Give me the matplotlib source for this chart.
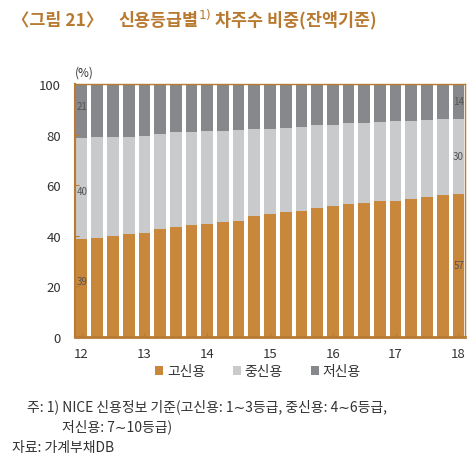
import matplotlib
matplotlib.use("Agg")
import matplotlib.pyplot as plt
import numpy as np

plt.rcParams['font.family'] = ['Noto Sans CJK KR', 'DejaVu Sans']

quarters = ["12.1Q","12.2Q","12.3Q","12.4Q","13.1Q","13.2Q","13.3Q","13.4Q",
            "14.1Q","14.2Q","14.3Q","14.4Q","15.1Q","15.2Q","15.3Q","15.4Q",
            "16.1Q","16.2Q","16.3Q","16.4Q","17.1Q","17.2Q","17.3Q","17.4Q","18.1Q"]
high = [38.6, 39.3, 40.1, 40.9, 41.3, 42.5, 43.3, 44.1, 44.6, 45.3, 45.8, 48.0,
        48.7, 49.3, 50.0, 50.8, 51.6, 52.4, 52.9, 53.6, 53.9, 54.7, 55.5, 56.2, 56.6]
high_mid = [78.8, 79.1, 79.1, 79.1, 79.6, 80.3, 81.1, 81.2, 81.3, 81.6, 81.8, 82.2,
            82.4, 82.8, 83.0, 83.6, 83.9, 84.6, 84.7, 85.0, 85.3, 85.4, 85.7, 86.1, 86.2]
mid = [hm - h for hm, h in zip(high_mid, high)]
low = [100 - hm for hm in high_mid]
year_labels = ["12", "13", "14", "15", "16", "17", "18"]
series_names = ["고신용", "중신용", "저신용"]
first_labels = ["39", "40", "21"]
last_labels = ["57", "30", "14"]

c_high = "#C8873A"
c_mid = "#C9CACC"
c_low = "#87888C"
c_frame = "#B87A30"
c_title = "#B87A30"
c_text = "#333333"

fig = plt.figure(figsize=(4.77, 4.60), dpi=100)
ax = fig.add_axes([75/477, 1-338/460, 390/477, 253/460])

x = np.arange(len(quarters))
w = 0.75
ax.bar(x, high, width=w, color=c_high, label=series_names[0])
ax.bar(x, mid, width=w, bottom=high, color=c_mid, label=series_names[1])
ax.bar(x, low, width=w, bottom=high_mid, color=c_low, label=series_names[2])

ax.set_xlim(-0.42, len(quarters) - 1 + 0.42)
ax.set_ylim(0, 100)
ax.set_yticks(range(0, 101, 20))
ax.set_xticks(x[::4])
ax.set_xticklabels(year_labels)
ax.tick_params(axis='both', direction='in', length=3, color=c_frame, labelsize=9.5,
               labelcolor=c_text)
ax.tick_params(axis='y', pad=10)
ax.tick_params(axis='x', pad=7)
for s in ax.spines.values():
    s.set_color(c_frame)
    s.set_linewidth(1.0)
ax.spines['bottom'].set_linewidth(2.0)
ax.spines['left'].set_linewidth(1.5)

# value labels on first and last bars
first_mid_y = [high[0] / 2 + 3, high[0] + mid[0] / 2 - 1, high_mid[0] + low[0] / 2 + 2]
last_mid_y = [high[-1] / 2, high[-1] + mid[-1] / 2, high_mid[-1] + low[-1] / 2]
for lab, yy in zip(first_labels, first_mid_y):
    ax.text(x[0] - w / 2 + 0.05, yy, lab, fontsize=7, color="#555555",
            ha='left', va='center')
for lab, yy in zip(last_labels, last_mid_y):
    ax.text(x[-1] + w / 2 - 0.02, yy, lab, fontsize=7, color="#555555",
            ha='right', va='center')

ax.text(0.0, 1.02, "(%)", transform=ax.transAxes, fontsize=8.5, color=c_text,
        ha='left', va='bottom')

# legend
handles, labels = ax.get_legend_handles_labels()
fig.legend(handles, labels, loc='center', bbox_to_anchor=(258/477, 1-372/460), ncol=3,
           frameon=False, fontsize=10, handlelength=0.6, handleheight=0.6,
           handletextpad=0.25, columnspacing=2.0, labelcolor=c_text)

# title
fig.text(12/477, 1-20/460, "〈그림 21〉", fontsize=12.5, color=c_title, ha='left',
         va='center', fontweight='bold')
fig.text(118/477, 1-20/460, "신용등급별$^{1)}$ 차주수 비중(잔액기준)", fontsize=12.5,
         color=c_title, ha='left', va='center', fontweight='bold')

# notes
fig.text(27/477, 1-407/460, "주: 1) NICE 신용정보 기준(고신용: 1∼3등급, 중신용: 4∼6등급,",
         fontsize=10, color=c_text, ha='left', va='center')
fig.text(62/477, 1-427/460, "저신용: 7∼10등급)", fontsize=10, color=c_text,
         ha='left', va='center')
fig.text(12/477, 1-448/460, "자료: 가계부채DB", fontsize=10, color=c_text,
         ha='left', va='center')

fig.savefig("out.png", dpi=100)
